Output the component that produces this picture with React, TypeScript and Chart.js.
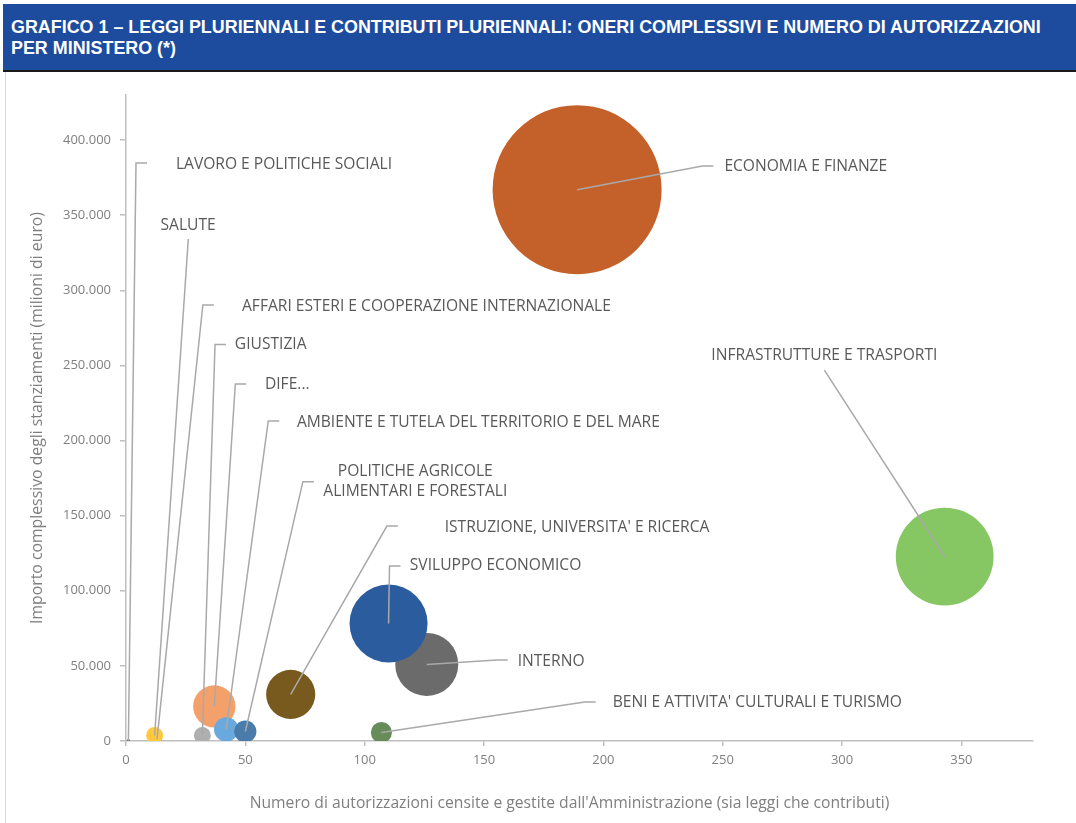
import React, { useEffect, useRef } from 'react';
import { Chart, registerables } from 'chart.js';

Chart.register(...registerables);

// ---- DATA (draw order: later entries are painted on top) ----
const ministeri = [
  'LAVORO E POLITICHE SOCIALI',
  'AFFARI ESTERI E COOPERAZIONE INTERNAZIONALE',
  'SALUTE',
  'GIUSTIZIA',
  'DIFESA',
  'AMBIENTE E TUTELA DEL TERRITORIO E DEL MARE',
  'POLITICHE AGRICOLE ALIMENTARI E FORESTALI',
  "ISTRUZIONE, UNIVERSITA' E RICERCA",
  'INTERNO',
  'SVILUPPO ECONOMICO',
  "BENI E ATTIVITA' CULTURALI E TURISMO",
  'ECONOMIA E FINANZE',
  'INFRASTRUTTURE E TRASPORTI',
];

// text shown in the data labels (DIFESA is truncated in the original)
const etichette: string[][] = [
  ['LAVORO E POLITICHE SOCIALI'],
  ['AFFARI ESTERI E COOPERAZIONE INTERNAZIONALE'],
  ['SALUTE'],
  ['GIUSTIZIA'],
  ['DIFE...'],
  ['AMBIENTE E TUTELA DEL TERRITORIO E DEL MARE'],
  ['POLITICHE AGRICOLE', 'ALIMENTARI E FORESTALI'],
  ["ISTRUZIONE, UNIVERSITA' E RICERCA"],
  ['INTERNO'],
  ['SVILUPPO ECONOMICO'],
  ["BENI E ATTIVITA' CULTURALI E TURISMO"],
  ['ECONOMIA E FINANZE'],
  ['INFRASTRUTTURE E TRASPORTI'],
];

// number of authorisations (x)
const autorizzazioni = [1, 13, 12, 32, 37, 42, 50, 69, 126, 110, 107, 189, 343];
// total amount, millions of euro (y, also bubble size)
const oneri = [150, 1200, 3700, 3700, 23000, 7700, 6300, 31000, 51000, 78200, 5700, 367000, 122800];

const xTicks = [0, 50, 100, 150, 200, 250, 300, 350];
const yTicks = [0, 50000, 100000, 150000, 200000, 250000, 300000, 350000, 400000];

const X_TITLE = "Numero di autorizzazioni censite e gestite dall'Amministrazione (sia leggi che contributi)";
const Y_TITLE = 'Importo complessivo degli stanziamenti (milioni di euro)';

// ---- STYLE / LAYOUT ----
const colori = [
  '#4472C4', '#8C8C8C', '#FFC83D', '#AFAFAF', '#F4A06A', '#6AA9DE', '#4A7BAA',
  '#785A1E', '#6B6B6B', '#2B5D9E', '#678C5A', '#C4612A', '#86C663',
];
const BUBBLE_K = 0.1395; // px radius per sqrt(value)

// label placement in data units: text anchor (tx,ty), leader elbow (ex,ey)
type LabelPos = { tx: number; ty: number; ex: number; ey: number; align: 'left' | 'center'; seg: boolean };
const posEtichette: LabelPos[] = [
  { tx: 20.9, ty: 383400, ex: 4.19, ey: 384700, align: 'left', seg: true },
  { tx: 48.6, ty: 289500, ex: 32.2, ey: 290200, align: 'left', seg: true },
  { tx: 26.0, ty: 343400, ex: 26.1, ey: 334100, align: 'center', seg: false },
  { tx: 45.6, ty: 263600, ex: 37.3, ey: 264000, align: 'left', seg: true },
  { tx: 58.2, ty: 237600, ex: 45.8, ey: 237600, align: 'left', seg: true },
  { tx: 71.6, ty: 212300, ex: 59.6, ey: 213000, align: 'left', seg: true },
  { tx: 121.2, ty: 172700, ex: 74.1, ey: 172600, align: 'center', seg: true },
  { tx: 133.5, ty: 142400, ex: 109.3, ey: 143100, align: 'left', seg: true },
  { tx: 164.1, ty: 53200, ex: 155.3, ey: 53900, align: 'left', seg: true },
  { tx: 118.9, ty: 116500, ex: 110.4, ey: 116500, align: 'left', seg: true },
  { tx: 203.9, ty: 25300, ex: 192.2, ey: 26000, align: 'left', seg: true },
  { tx: 250.7, ty: 382100, ex: 241.5, ey: 382700, align: 'left', seg: true },
  { tx: 292.6, ty: 256300, ex: 292.6, ey: 246900, align: 'center', seg: false },
];

const FONT = "'Open Sans', 'DejaVu Sans', sans-serif";
const SEG_LEN = 11;
const LINE_H = 20;
const X_TITLE_SHIFT = -10; // x title is centred slightly left of the plot centre
const X_TITLE_FROM_BOTTOM = 19;

const fmt = (v: number) => String(v).replace(/\B(?=(\d{3})+(?!\d))/g, '.');

const leaderPlugin = {
  id: 'leaders',
  afterDatasetsDraw(chart: any) {
    const { ctx } = chart;
    const xs = chart.scales.x;
    const ys = chart.scales.y;
    const meta = chart.getDatasetMeta(0);
    ctx.save();
    ctx.strokeStyle = '#A9A9A9';
    ctx.lineWidth = 1.5;
    posEtichette.forEach((p, i) => {
      const pt = meta.data[i];
      const ex = xs.getPixelForValue(p.ex);
      const ey = ys.getPixelForValue(p.ey);
      ctx.beginPath();
      ctx.moveTo(pt.x, pt.y);
      ctx.lineTo(ex, ey);
      if (p.seg) ctx.lineTo(ex + SEG_LEN, ey);
      ctx.stroke();
    });
    ctx.fillStyle = '#595959';
    ctx.font = `15.6px ${FONT}`;
    ctx.textBaseline = 'middle';
    posEtichette.forEach((p, i) => {
      const lines = etichette[i];
      const tx = xs.getPixelForValue(p.tx);
      const ty = ys.getPixelForValue(p.ty);
      ctx.textAlign = p.align;
      const y0 = ty - ((lines.length - 1) * LINE_H) / 2;
      lines.forEach((l, k) => ctx.fillText(l, tx, y0 + k * LINE_H));
    });
    // x axis title
    const ca = chart.chartArea;
    ctx.fillStyle = '#7F7F7F';
    ctx.font = `15.7px ${FONT}`;
    ctx.textAlign = 'center';
    ctx.fillText(X_TITLE, (ca.left + ca.right) / 2 + X_TITLE_SHIFT, chart.height - X_TITLE_FROM_BOTTOM);
    ctx.restore();
  },
};

export default function App() {
  const canvasRef = useRef<HTMLCanvasElement>(null);

  useEffect(() => {
    document.body.style.margin = '0';
    const canvas = canvasRef.current!;
    const chart = new Chart(canvas, {
      type: 'bubble',
      data: {
        datasets: [
          {
            label: 'Ministeri',
            data: ministeri.map((_, i) => ({
              x: autorizzazioni[i],
              y: oneri[i],
              r: BUBBLE_K * Math.sqrt(oneri[i]),
            })),
            backgroundColor: colori,
            borderWidth: 0,
            hoverRadius: 0,
            clip: 0,
          } as any,
        ],
      },
      options: {
        responsive: false,
        animation: false,
        events: [],
        layout: { autoPadding: false, padding: { top: 23, right: 43, left: 0, bottom: 0 } },
        plugins: { legend: { display: false }, tooltip: { enabled: false } },
        scales: {
          x: {
            type: 'linear',
            min: 0,
            max: 380,
            afterBuildTicks: (s: any) => {
              s.ticks = xTicks.map((v) => ({ value: v }));
            },
            afterFit: (s: any) => {
              s.height = 82;
            },
            ticks: { color: '#808080', font: { family: FONT, size: 13 }, padding: 6 },
            grid: { drawOnChartArea: false, drawTicks: true, tickLength: 5, color: '#BFBFBF', lineWidth: 1.5 },
            border: { display: true, color: '#BFBFBF', width: 1.5 },
            title: { display: false },
          },
          y: {
            type: 'linear',
            min: 0,
            max: 430000,
            afterBuildTicks: (s: any) => {
              s.ticks = yTicks.map((v) => ({ value: v }));
            },
            afterFit: (s: any) => {
              s.width = 126;
            },
            ticks: {
              color: '#808080',
              font: { family: FONT, size: 13 },
              padding: 9,
              callback: (v: any) => fmt(Number(v)),
            },
            grid: { drawOnChartArea: false, drawTicks: true, tickLength: 6, color: '#BFBFBF', lineWidth: 1.5 },
            border: { display: true, color: '#BFBFBF', width: 1.5 },
            title: {
              display: true,
              text: Y_TITLE,
              color: '#7F7F7F',
              font: { family: FONT, size: 15.8 },
              padding: { top: 28, bottom: 0 },
            },
          },
        },
      },
      plugins: [leaderPlugin],
    });
    return () => chart.destroy();
  }, []);

  return (
    <div style={{ position: 'relative', width: 1076, height: 823, background: '#fff', overflow: 'hidden' }}>
      <div
        style={{
          position: 'absolute',
          left: 3,
          top: 4,
          right: 0,
          height: 66,
          background: '#1D4B9E',
          borderBottom: '2px solid #1a1a1a',
          boxSizing: 'content-box',
        }}
      >
        <div
          style={{
            position: 'absolute',
            left: 8,
            top: 13,
            right: 4,
            color: '#ffffff',
            fontFamily: "'Liberation Sans', Arial, sans-serif",
            fontWeight: 'bold',
            fontSize: 17.9,
            lineHeight: '21px',
            whiteSpace: 'nowrap',
          }}
        >
          GRAFICO 1 – LEGGI PLURIENNALI E CONTRIBUTI PLURIENNALI: ONERI COMPLESSIVI E NUMERO DI AUTORIZZAZIONI
          <br />
          PER MINISTERO (*)
        </div>
      </div>
      <div
        style={{ position: 'absolute', left: 5, top: 72, width: 0, height: 751, borderLeft: '1px solid #D9D9D9' }}
      />
      <canvas
        ref={canvasRef}
        width={1076}
        height={751}
        style={{ position: 'absolute', left: 0, top: 72, width: 1076, height: 751 }}
      />
    </div>
  );
}
